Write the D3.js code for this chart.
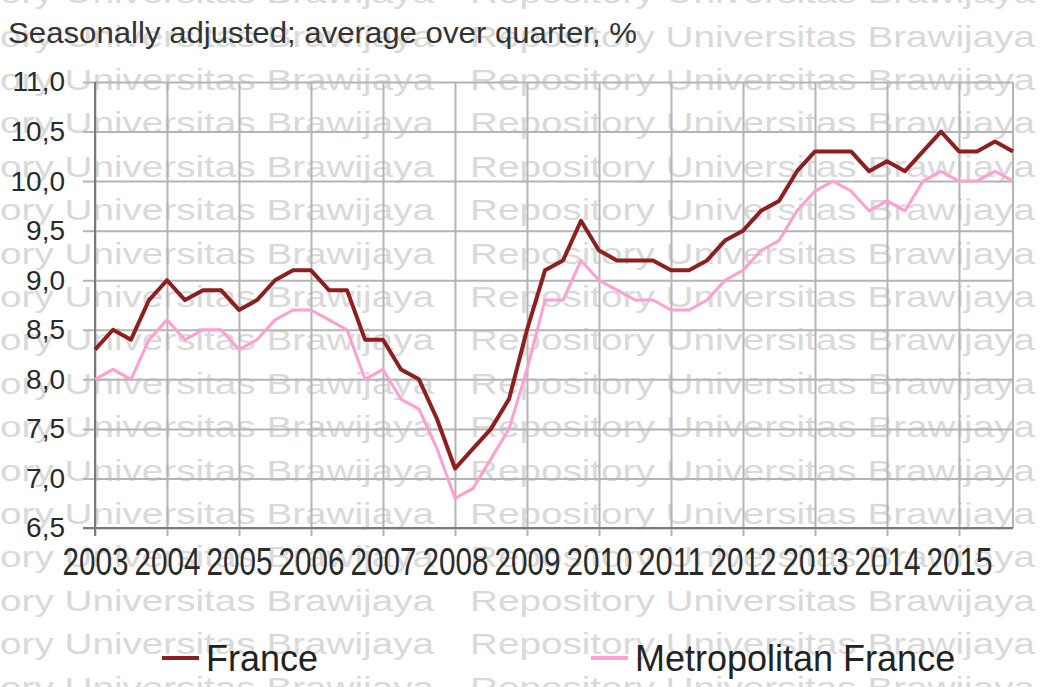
<!DOCTYPE html>
<html>
<head>
<meta charset="utf-8">
<script src="https://d3js.org/d3.v7.min.js"></script>
<style>
  body { margin: 0; background: #fff; }
  svg { display: block; }
  text { font-family: "Liberation Sans", Arial, Helvetica, sans-serif; }
</style>
</head>
<body>
<svg id="chart" width="1048" height="687"></svg>
<script>
// quarterly series, 2003 Q1 .. 2015 Q4
var firstYear = 2003;
var yearTicks = [2003, 2004, 2005, 2006, 2007, 2008, 2009, 2010, 2011, 2012, 2013, 2014, 2015];
var valueTicks = [6.5, 7.0, 7.5, 8.0, 8.5, 9.0, 9.5, 10.0, 10.5, 11.0];

var france = [8.3, 8.5, 8.4, 8.8, 9.0, 8.8, 8.9, 8.9, 8.7, 8.8, 9.0, 9.1, 9.1,
              8.9, 8.9, 8.4, 8.4, 8.1, 8.0, 7.6, 7.1, 7.3, 7.5, 7.8, 8.5, 9.1,
              9.2, 9.6, 9.3, 9.2, 9.2, 9.2, 9.1, 9.1, 9.2, 9.4, 9.5, 9.7, 9.8,
              10.1, 10.3, 10.3, 10.3, 10.1, 10.2, 10.1, 10.3, 10.5, 10.3, 10.3, 10.4, 10.3];
var metropolitan = [8.0, 8.1, 8.0, 8.4, 8.6, 8.4, 8.5, 8.5, 8.3, 8.4, 8.6, 8.7, 8.7,
                    8.6, 8.5, 8.0, 8.1, 7.8, 7.7, 7.3, 6.8, 6.9, 7.2, 7.5, 8.1, 8.8,
                    8.8, 9.2, 9.0, 8.9, 8.8, 8.8, 8.7, 8.7, 8.8, 9.0, 9.1, 9.3, 9.4,
                    9.7, 9.9, 10.0, 9.9, 9.7, 9.8, 9.7, 10.0, 10.1, 10.0, 10.0, 10.1, 10.0];

var seriesNames = ["France", "Metropolitan France"];
var seriesColors = ["#8e1f1f", "#ff9fd0"];
var title = "Seasonally adjusted; average over quarter, %";
var watermark = "Repository Universitas Brawijaya";

var svg = d3.select("#chart");

var plotL = 95, plotR = 1013, plotT = 82, plotB = 528;

var x = d3.scaleLinear()
  .domain([firstYear, firstYear + (france.length - 1) / 4])
  .range([plotL, plotR]);
var y = d3.scaleLinear()
  .domain([6.5, 11])
  .range([plotB, plotT]);

var comma = d3.formatLocale({decimal: ",", thousands: " ", grouping: [3], currency: ["", "€"]}).format(".1f");

// faint watermark rows behind everything
var rows = d3.range(-2, 15);
var wm = svg.append("g").attr("fill", "#d9d9d9");
rows.forEach(function(r) {
  [-131, 470].forEach(function(x0) {
    wm.append("text")
      .attr("x", x0)
      .attr("y", 90 + r * 43.4)
      .attr("font-size", 30)
      .attr("textLength", 565)
      .attr("lengthAdjust", "spacingAndGlyphs")
      .text(watermark);
  });
});

// horizontal grid, sticking out left of the axis
var hgrid = svg.append("g")
  .attr("transform", "translate(" + plotR + ",0)")
  .call(d3.axisLeft(y).tickValues(valueTicks).tickSize(plotR - 83).tickFormat(""));
hgrid.select(".domain").remove();
hgrid.selectAll("line").attr("stroke", "#b4b4b4").attr("stroke-width", 2);

// vertical grid, one per year, plus right border
var vgrid = svg.append("g")
  .attr("transform", "translate(0," + plotT + ")")
  .call(d3.axisBottom(x).tickValues(yearTicks).tickSize(536 - plotT).tickFormat(""));
vgrid.select(".domain").remove();
vgrid.selectAll("line").attr("stroke", "#b4b4b4").attr("stroke-width", 2);
svg.append("line")
  .attr("x1", plotR).attr("x2", plotR).attr("y1", plotT).attr("y2", plotB)
  .attr("stroke", "#b4b4b4").attr("stroke-width", 2);

// axis lines
svg.append("line")
  .attr("x1", plotL).attr("x2", plotL).attr("y1", plotT).attr("y2", 536)
  .attr("stroke", "#7a7a7a").attr("stroke-width", 2);
svg.append("line")
  .attr("x1", 83).attr("x2", plotR).attr("y1", plotB).attr("y2", plotB)
  .attr("stroke", "#7a7a7a").attr("stroke-width", 2);

// y labels
var yAxis = svg.append("g")
  .attr("transform", "translate(" + plotL + ",0)")
  .call(d3.axisLeft(y).tickValues(valueTicks).tickSize(0).tickPadding(30).tickFormat(comma));
yAxis.select(".domain").remove();
yAxis.selectAll("text")
  .attr("font-size", 28)
  .attr("fill", "#2a2a2a")
  .attr("font-family", "Liberation Sans, Arial, sans-serif");

// x labels (tall and narrow in the original)
var xAxis = svg.append("g")
  .attr("transform", "translate(0," + plotB + ")")
  .call(d3.axisBottom(x).tickValues(yearTicks).tickSize(0).tickFormat(d3.format("d")));
xAxis.select(".domain").remove();
xAxis.selectAll("text")
  .attr("y", 47)
  .attr("dy", 0)
  .attr("font-size", 38)
  .attr("textLength", 66)
  .attr("lengthAdjust", "spacingAndGlyphs")
  .attr("fill", "#2a2a2a")
  .attr("font-family", "Liberation Sans, Arial, sans-serif");

// lines
var line = d3.line()
  .x(function(d, i) { return x(firstYear + i / 4); })
  .y(function(d) { return y(d); });

svg.append("path")
  .datum(metropolitan)
  .attr("d", line)
  .attr("fill", "none")
  .attr("stroke", seriesColors[1])
  .attr("stroke-width", 3)
  .attr("stroke-linejoin", "round");
svg.append("path")
  .datum(france)
  .attr("d", line)
  .attr("fill", "none")
  .attr("stroke", seriesColors[0])
  .attr("stroke-width", 4)
  .attr("stroke-linejoin", "round");

// title
svg.append("text")
  .attr("x", 8)
  .attr("y", 43)
  .attr("font-size", 29)
  .attr("textLength", 629)
  .attr("lengthAdjust", "spacingAndGlyphs")
  .attr("fill", "#333")
  .text(title);

// legend
var legendX = [162, 591];
var legend = svg.append("g");
seriesNames.forEach(function(name, i) {
  legend.append("line")
    .attr("x1", legendX[i]).attr("x2", legendX[i] + 37)
    .attr("y1", 658).attr("y2", 658)
    .attr("stroke", seriesColors[i])
    .attr("stroke-width", 4);
  legend.append("text")
    .attr("x", legendX[i] + 44)
    .attr("y", 671)
    .attr("font-size", 36)
    .attr("fill", "#222")
    .text(name);
});
</script>
</body>
</html>
